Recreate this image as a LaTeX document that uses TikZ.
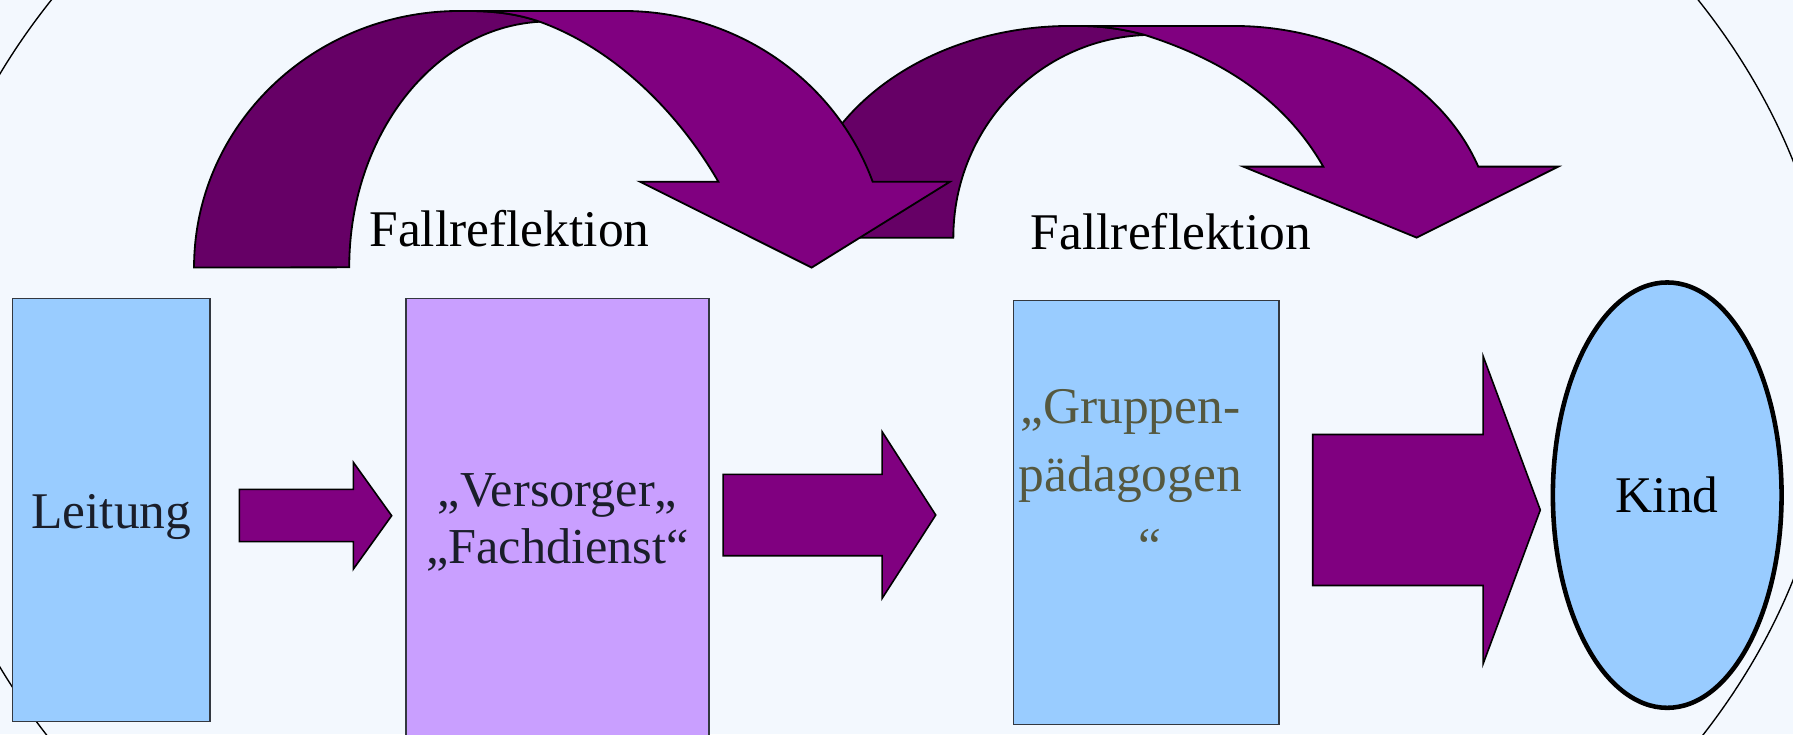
\documentclass[tikz,border=0pt]{standalone}
\usepackage{fontspec}
\setmainfont{Liberation Serif}
\usetikzlibrary{shapes.geometric}
\definecolor{bgcol}{HTML}{F3F8FE}
\definecolor{boxblue}{HTML}{99CCFF}
\definecolor{boxlav}{HTML}{C99FFF}
\definecolor{purp}{HTML}{800080}
\definecolor{purpdark}{HTML}{660066}
\definecolor{txtdark}{HTML}{1A1E2A}
\definecolor{txtolive}{HTML}{55583F}
\definecolor{boxline}{HTML}{333840}
\tikzset{
  boxshape/.style={draw=boxline, line width=1.2pt, inner sep=0pt, outer sep=0pt},
  lbl/.style={font=\fontsize{45}{47}\selectfont, inner sep=0pt, anchor=base},
  blockarrow/.style={fill=purp, draw=black, line width=1.4pt, line join=miter},
  curvelight/.style={fill=purp, draw=black, line width=1.6pt, line join=miter},
  curvedark/.style={fill=purpdark, draw=black, line width=1.6pt, line join=miter}
}
\begin{document}
\begin{tikzpicture}[x=1pt,y=-1pt]
\useasboundingbox (0,0) rectangle (1568,642);
\fill[bgcol] (0,0) rectangle (1568,642);
\begin{scope}
  \clip (0,0) rectangle (1568,642);
  \draw[line width=1.2pt] (765,324) ellipse [x radius=839pt, y radius=631pt];
\end{scope}

% curved arrow 2 (behind)
\path[curvedark] (699,208) arc[start angle=180, end angle=90, x radius=237pt, y radius=185.3pt]
  -- (945,22.7) .. controls (965,22.7) and (985,26) .. (1001.3,30.6)
  arc[start angle=92.2, end angle=180, x radius=174.3pt, y radius=177.4pt] -- cycle;
\path[curvelight] (945,22.7) -- (1078.5,22.7)
  arc[start angle=90, end angle=19.65, x radius=227.5pt, y radius=185.3pt]
  -- (1362.7,145.7) -- (1238.9,207.8) -- (1087.3,145.7) -- (1157.2,145.7)
  .. controls (1123,86) and (1068,52) .. (1001.3,30.6)
  .. controls (985,26) and (965,22.7) .. (945,22.7) -- cycle;

% curved arrow 1 (front)
\path[curvedark] (169.7,234) arc[start angle=180, end angle=90, x radius=232.3pt, y radius=224.4pt]
  -- (410,9.6) .. controls (435,9.6) and (455,13) .. (472,19)
  arc[start angle=92.6, end angle=180, x radius=174.5pt, y radius=215pt] -- cycle;
\path[curvelight] (410,9.6) -- (545.1,9.6)
  arc[start angle=90, end angle=19.55, x radius=231.4pt, y radius=224.4pt]
  -- (830.8,158.9) -- (709.8,234) -- (559.7,158.9) -- (628.2,158.9)
  .. controls (593.2,98.3) and (537.8,42.8) .. (472,19)
  .. controls (455,13) and (435,9.6) .. (410,9.6) -- cycle;

\node[lbl, text=black] (fr1) at (445.5,215.7) {Fallreflektion};
\node[lbl, text=black] (fr2) at (1024,218.6) {Fallreflektion};

% boxes
\node[boxshape, fill=boxblue, minimum width=172.5pt, minimum height=370.1pt] (leitung) at (97.35,446) {};
\node[boxshape, fill=boxlav, minimum width=264.9pt, minimum height=439pt] (versorger) at (487.55,480.5) {};
\node[boxshape, fill=boxblue, minimum width=232.3pt, minimum height=370.4pt] (gruppen) at (1002.35,448.2) {};
\node[ellipse, draw=black, line width=4pt, fill=boxblue, minimum width=200pt, minimum height=372pt,
      inner sep=0pt, font=\fontsize{45}{47}\selectfont] (kind) at (1458,433) {Kind};

\node[lbl, text=txtdark] (leitungtxt) at (97.35,461.8) {Leitung};
\node[lbl, text=txtdark, font=\fontsize{44}{47}\selectfont] (vers1) at (487.5,443) {„Versorger„};
\node[lbl, text=txtdark, font=\fontsize{44}{47}\selectfont] (vers2) at (487.5,492.6) {„Fachdienst“};
\node[lbl, text=txtolive] (grp1) at (988.5,370) {„Gruppen-};
\node[lbl, text=txtolive] (grp2) at (988.5,430) {pädagogen};
\node[lbl, text=txtolive] (grp3) at (1006,493) {“};

% block arrows
\path[blockarrow] (209.3,427.9) -- (309,427.9) -- (309,404.3) -- (342.5,451)
  -- (309,497.7) -- (309,473.7) -- (209.3,473.7) -- cycle;
\path[blockarrow] (632.4,414.8) -- (771.4,414.8) -- (771.4,377.5) -- (818.3,450.4)
  -- (771.4,523.3) -- (771.4,486) -- (632.4,486) -- cycle;
\path[blockarrow] (1148,380) -- (1297,380) -- (1297,311.5) -- (1347,446)
  -- (1297,580.5) -- (1297,512) -- (1148,512) -- cycle;
\end{tikzpicture}
\end{document}
